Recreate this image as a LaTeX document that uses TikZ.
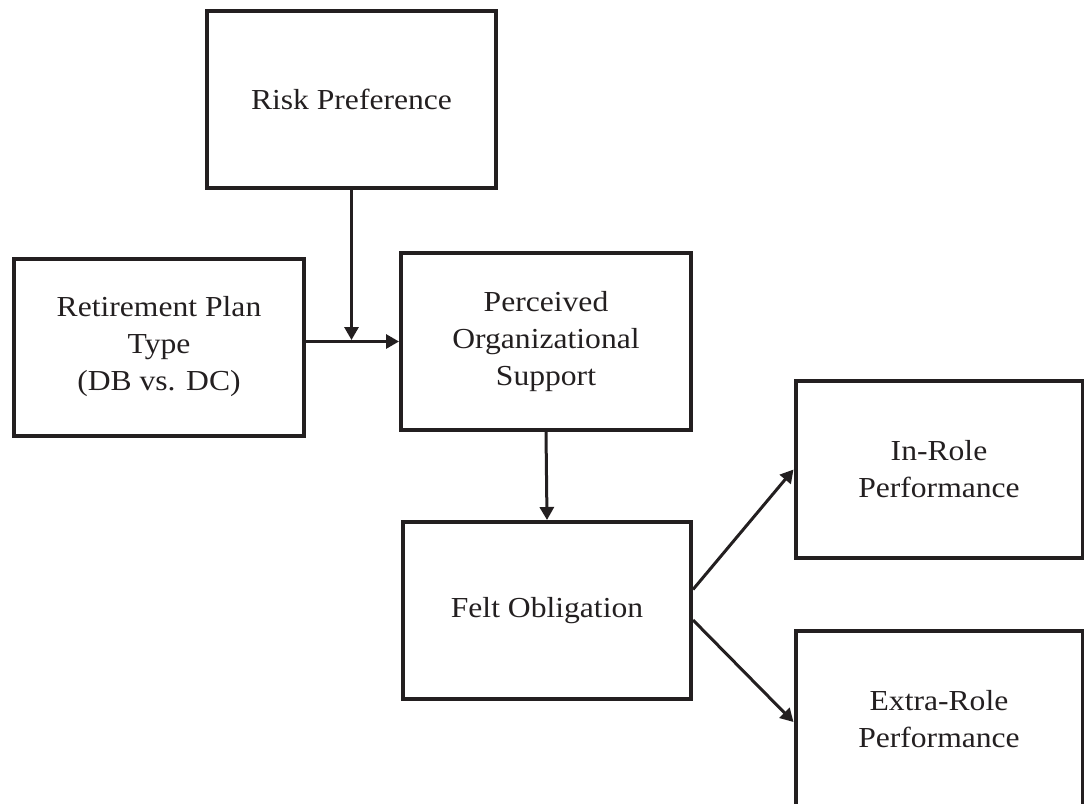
\documentclass[tikz,border=0pt]{standalone}
\usepackage{fontspec}
\setmainfont{Liberation Serif}[FakeStretch=1.09]
\usepackage{tikz}
\usetikzlibrary{positioning,arrows.meta}
\definecolor{ink}{HTML}{231F20}

\begin{document}
\begin{tikzpicture}[
  x=1pt,y=-1pt,
  every node/.style={font=\fontsize{29}{37}\selectfont},
  box/.style={rectangle,draw=ink,line width=4pt,minimum width=289pt,minimum height=177pt,inner sep=2pt,align=center,text=ink},
  arr/.style={draw=ink,line width=3pt,-{Triangle[length=13pt,width=14pt]}}
]
  \useasboundingbox (0,0) rectangle (1084,803);
  \node[box] (risk) at (351.5,99) {Risk Preference};
  \node[box,minimum width=290pt] (plan) at (159,347) {Retirement Plan\\Type\\(DB vs. DC)};
  \node[box,minimum width=290pt] (pos) at (546,341.5) {Perceived\\Organizational\\Support};
  \node[box,minimum width=288pt] (felt) at (547,610.5) {Felt Obligation};
  \node[box,minimum width=287pt] (inrole) at (939,469.5) {In-Role\\Performance};
  \node[box,minimum width=287pt] (extra) at (939,719) {Extra-Role\\Performance};
  \draw[arr] (plan.east |- pos.west) -- (pos.west);
  \draw[arr,shorten >=1.5pt] (risk.south) -- (risk.south |- pos.west);
  \draw[arr] (pos.south) -- (felt.north);
  \draw[arr] ([yshift=21pt]felt.east) -- ([yshift=0pt]inrole.west);
  \draw[arr] ([yshift=-9.5pt]felt.east) -- ([yshift=-3pt]extra.west);
\end{tikzpicture}
\end{document}
